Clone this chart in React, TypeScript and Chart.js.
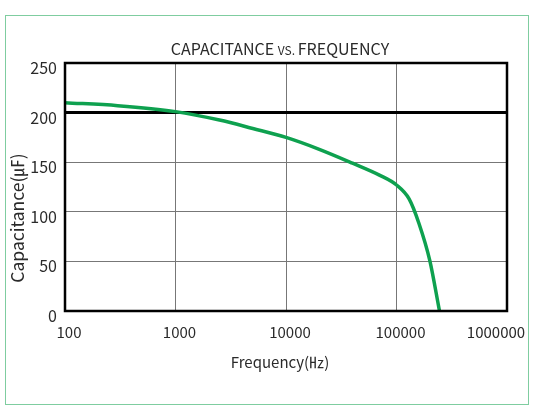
import React, { useEffect, useRef } from 'react';
import { Chart, registerables } from 'chart.js';

Chart.register(...registerables);

// ---- data ----
const frequencies = [100, 300, 1000, 2500, 5000, 10000, 20000, 40000, 70000, 100000, 130000, 160000, 200000, 245000];
const capacitance = [210, 207, 201, 192.5, 184, 175, 163, 149, 137, 127, 113, 88, 51, 0];
const referenceLevel = 200;
const xTickValues = [100, 1000, 10000, 100000, 1000000];
const yTickValues = [0, 50, 100, 150, 200, 250];
const titleParts = ['CAPACITANCE ', 'VS. ', 'FREQUENCY'];
const xTitle = 'Frequency(㎐)';
const yTitle = 'Capacitance(㎌)';

const FONT = '"Noto Sans CJK KR", "Noto Sans", sans-serif';
const TEXT = '#2a2a2a';

const textPlugin = {
  id: 'customTexts',
  afterDraw(chart: any) {
    const { ctx, chartArea } = chart;
    ctx.save();
    ctx.fillStyle = TEXT;
    ctx.textBaseline = 'alphabetic';
    // title with small "VS."
    const sizes = [16, 12, 16];
    let total = 0;
    const widths = titleParts.map((t, i) => {
      ctx.font = `${sizes[i]}px ${FONT}`;
      const w = ctx.measureText(t).width;
      total += w;
      return w;
    });
    const cx = (chartArea.left + chartArea.right) / 2 - 6;
    let x = cx - total / 2;
    ctx.textAlign = 'left';
    titleParts.forEach((t, i) => {
      ctx.font = `${sizes[i]}px ${FONT}`;
      ctx.fillText(t, x, chartArea.top - 8);
      x += widths[i];
    });
    // x axis title
    ctx.font = `15px ${FONT}`;
    ctx.textAlign = 'center';
    ctx.textBaseline = 'middle';
    ctx.fillText(xTitle, cx, chartArea.bottom + 51);
    // y axis title
    ctx.font = `17.5px ${FONT}`;
    ctx.save();
    ctx.translate(17, (chartArea.top + chartArea.bottom) / 2 + 31);
    ctx.rotate(-Math.PI / 2);
    ctx.fillText(yTitle, 0, 0);
    ctx.restore();
    ctx.restore();
  },
};

const framePlugin = {
  id: 'plotFrame',
  afterDatasetsDraw(chart: any) {
    const { ctx, chartArea } = chart;
    ctx.save();
    ctx.strokeStyle = '#000';
    ctx.lineWidth = 2.5;
    ctx.strokeRect(chartArea.left, chartArea.top, chartArea.right - chartArea.left, chartArea.bottom - chartArea.top);
    ctx.restore();
  },
};

export default function App() {
  const ref = useRef<HTMLCanvasElement>(null);

  useEffect(() => {
    if (!ref.current) return;
    const lastTick = xTickValues[xTickValues.length - 1];
    const chart = new Chart(ref.current, {
      type: 'line',
      data: {
        datasets: [
          {
            data: frequencies.map((f, i) => ({ x: f, y: capacitance[i] })),
            borderColor: '#0ea14f',
            borderWidth: 3.5,
            pointRadius: 0,
            cubicInterpolationMode: 'monotone',
            fill: false,
          },
        ],
      },
      options: {
        responsive: false,
        animation: false,
        devicePixelRatio: 1,
        layout: { padding: { left: 0, right: 26, top: 63, bottom: 0 } },
        plugins: {
          legend: { display: false },
          title: { display: false },
          tooltip: { enabled: false },
        },
        scales: {
          x: {
            type: 'logarithmic',
            min: xTickValues[0],
            max: lastTick,
            afterBuildTicks: (s: any) => {
              s.ticks = xTickValues.map((v) => ({ value: v }));
            },
            afterFit: (s: any) => {
              s.height = 95;
              s.paddingLeft = 0;
              s.paddingRight = 0;
            },
            grid: { color: '#777', lineWidth: 1, drawTicks: false },
            border: { display: false },
            ticks: {
              padding: 12,
              labelOffset: 4,
              autoSkip: false,
              maxRotation: 0,
              color: TEXT,
              font: { family: FONT, size: 15 },
              // last label is kept inside the frame, as in the original
              callback: (v: any) => (v === lastTick ? String(v) + '\u2002\u2002\u2002\u2002' : String(v)),
            },
          },
          y: {
            type: 'linear',
            min: yTickValues[0],
            max: yTickValues[yTickValues.length - 1],
            afterBuildTicks: (s: any) => {
              s.ticks = yTickValues.map((v) => ({ value: v }));
            },
            afterFit: (s: any) => {
              s.width = 65;
              s.paddingTop = 0;
              s.paddingBottom = 0;
            },
            grid: {
              color: (c: any) => (c.tick && c.tick.value === referenceLevel ? '#000' : '#777'),
              lineWidth: (c: any) => (c.tick && c.tick.value === referenceLevel ? 3 : 1),
              drawTicks: false,
            },
            border: { display: false },
            ticks: {
              padding: 8,
              labelOffset: 5,
              color: TEXT,
              font: { family: FONT, size: 16 },
              callback: (v: any) => String(v),
            },
          },
        },
      },
      plugins: [framePlugin, textPlugin],
    } as any);
    return () => chart.destroy();
  }, []);

  return (
    <div style={{ position: 'fixed', left: 0, top: 0, width: 533, height: 406, background: '#fff' }}>
      <div
        style={{
          position: 'absolute',
          left: 5,
          top: 15,
          width: 524,
          height: 390,
          boxSizing: 'border-box',
          border: '1.5px solid #7fcda0',
        }}
      />
      <canvas ref={ref} width={533} height={406} style={{ position: 'absolute', left: 0, top: 0, width: 533, height: 406 }} />
    </div>
  );
}
